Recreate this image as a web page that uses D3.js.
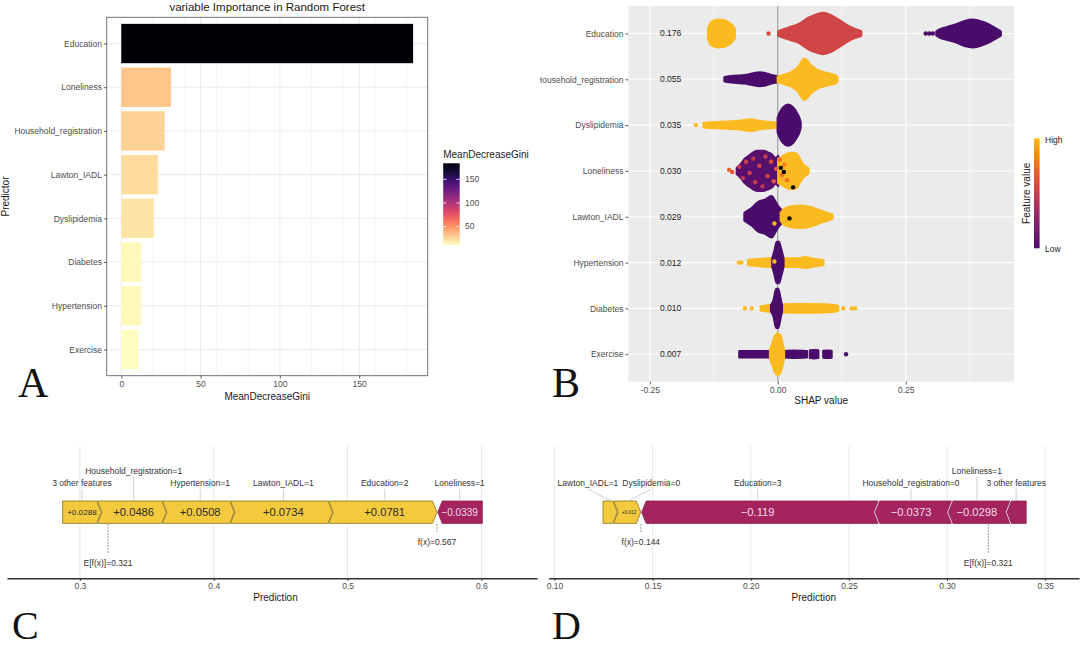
<!DOCTYPE html>
<html>
<head>
<meta charset="UTF-8">
<title>Random forest importance and SHAP</title>
<script src="https://cdnjs.cloudflare.com/ajax/libs/d3/7.8.5/d3.min.js"></script>
<style>
  body { margin: 0; background: #fff; }
  svg text { font-family: "Liberation Sans", Arial, sans-serif; }
  svg text.letter { font-family: "Liberation Serif", "Times New Roman", serif; }
</style>
</head>
<body>
<script>
// ---------- data: panel A (random forest importance)
const rfPredictors = ["Education", "Loneliness", "Household_registration", "Lawton_IADL",
  "Dyslipidemia", "Diabetes", "Hypertension", "Exercise"];
const rfGini = [184, 31.4, 27.3, 23.1, 20.5, 12.5, 12.4, 10.8];
const giniTicks = [0, 50, 100, 150];
const giniLegendTicks = [50, 100, 150];

// ---------- data: panel B (SHAP summary)
const shapFeatures = ["Education", "Household_registration", "Dyslipidemia", "Loneliness",
  "Lawton_IADL", "Hypertension", "Diabetes", "Exercise"];
const shapMeanAbs = [0.176, 0.055, 0.035, 0.030, 0.029, 0.012, 0.010, 0.007];
const shapTicks = [-0.25, 0, 0.25];

// swarm outlines: t = feature value (0 low .. 1 high),
// pts = [shap value, swarm density 0..1]
const swarmEducation = [
  { t: 1, pts: [[-0.136, 0.25], [-0.132, 0.5], [-0.126, 0.62], [-0.116, 0.67], [-0.106, 0.65], [-0.097, 0.56], [-0.09, 0.42], [-0.084, 0.22]] },
  { t: 0.55, pts: [[0.001, 0.1], [0.014, 0.23], [0.027, 0.33], [0.04, 0.44], [0.06, 0.76], [0.075, 0.92], [0.089, 1.0], [0.103, 0.9], [0.118, 0.68], [0.138, 0.36], [0.15, 0.22], [0.157, 0.16], [0.163, 0.1]] },
  { t: 0, pts: [[0.31, 0.1], [0.317, 0.2], [0.33, 0.3], [0.35, 0.45], [0.365, 0.6], [0.381, 0.67], [0.4, 0.56], [0.415, 0.4], [0.425, 0.25], [0.4355, 0.1]] }
];
const swarmHousehold = [
  { t: 0, pts: [[-0.104, 0.1], [-0.095, 0.14], [-0.08, 0.17], [-0.065, 0.2], [-0.05, 0.27], [-0.035, 0.33], [-0.022, 0.28], [-0.012, 0.2], [-0.002, 0.15]] },
  { t: 1, pts: [[0.0, 0.12], [0.007, 0.18], [0.027, 0.35], [0.04, 0.6], [0.052, 1.0], [0.066, 0.65], [0.08, 0.42], [0.092, 0.32], [0.105, 0.25], [0.112, 0.2], [0.1165, 0.1]] }
];
const swarmDyslipidemia = [
  { t: 1, pts: [[-0.145, 0.1], [-0.13, 0.13], [-0.11, 0.15], [-0.09, 0.18], [-0.07, 0.22], [-0.051, 0.28], [-0.035, 0.2], [-0.02, 0.15], [-0.005, 0.12], [0.0, 0.1]] },
  { t: 0, pts: [[0.0, 0.35], [0.004, 0.6], [0.01, 0.85], [0.02, 1.0], [0.03, 0.85], [0.037, 0.6], [0.042, 0.35], [0.0445, 0.12]] }
];
const swarmLoneliness = [
  { t: 0.05, pts: [[-0.08, 0.15], [-0.0737, 0.29], [-0.0639, 0.6], [-0.054, 0.78], [-0.041, 0.97], [-0.028, 0.97], [-0.018, 0.88], [-0.0117, 0.8], [-0.005, 0.63], [0.001, 0.72]] },
  { t: 1, pts: [[0.001, 0.6], [0.0045, 0.62], [0.014, 0.78], [0.027, 0.88], [0.037, 0.83], [0.0436, 0.55], [0.05, 0.3], [0.055, 0.2], [0.06, 0.12]] }
];
const swarmLawton = [
  { t: 0, pts: [[-0.065, 0.18], [-0.058, 0.3], [-0.051, 0.42], [-0.038, 0.72], [-0.025, 0.82], [-0.012, 1.0], [-0.005, 0.75], [0.001, 0.5], [0.008, 0.3]] },
  { t: 1, pts: [[0.006, 0.2], [0.014, 0.4], [0.027, 0.5], [0.047, 0.54], [0.066, 0.45], [0.079, 0.33], [0.092, 0.22], [0.1067, 0.1]] }
];
const swarmHypertension = [
  { t: 1, pts: [[-0.058, 0.12], [-0.04, 0.16], [-0.02, 0.2], [0.0, 0.22], [0.02, 0.2], [0.04, 0.2], [0.053, 0.26], [0.07, 0.18], [0.089, 0.12]] },
  { t: 0, pts: [[-0.0105, 0.2], [-0.006, 0.6], [-0.002, 1.0], [0.002, 1.0], [0.006, 0.7], [0.011, 0.2]] }
];
const swarmDiabetes = [
  { t: 1, pts: [[-0.033, 0.1], [-0.02, 0.14], [0.0, 0.18], [0.03, 0.2], [0.06, 0.2], [0.09, 0.19], [0.11, 0.16], [0.118, 0.12]] },
  { t: 0, pts: [[-0.013, 0.15], [-0.008, 0.4], [-0.003, 0.95], [0.001, 0.95], [0.005, 0.5], [0.008, 0.15]] }
];
const swarmExercise = [
  { t: 0, pts: [[-0.075, 0.15], [-0.05, 0.15], [-0.02, 0.15], [-0.005, 0.15]] },
  { t: 0, pts: [[0.01, 0.15], [0.03, 0.17], [0.057, 0.15]] },
  { t: 0, pts: [[0.063, 0.18], [0.071, 0.2], [0.079, 0.18]] },
  { t: 0, pts: [[0.089, 0.16], [0.097, 0.17], [0.105, 0.16]] },
  { t: 1, pts: [[-0.015, 0.2], [-0.01, 0.55], [-0.005, 0.9], [0.0, 1.0], [0.005, 0.9], [0.009, 0.55], [0.012, 0.2]] }
];
// single points: [shap value, offset in density units (+ up), t]
const dotsEducation = [[-0.018, 0, 0.58], [0.289, 0, 0], [0.296, 0, 0], [0.303, 0, 0]];
const dotsHousehold = [];
const dotsDyslipidemia = [[-0.16, 0, 1]];
const dotsLoneliness = [[-0.095, 0.05, 0.7], [-0.089, -0.05, 0.65], [-0.075, 0.2, 0.5], [-0.068, -0.35, 0.45],
  [-0.062, 0.45, 0.5], [-0.055, -0.1, 0.55], [-0.048, 0.6, 0.45], [-0.044, -0.55, 0.5], [-0.036, 0.25, 0.55],
  [-0.03, -0.75, 0.45], [-0.024, 0.7, 0.5], [-0.02, -0.25, 0.55], [-0.013, 0.45, 0.6], [-0.008, -0.5, 0.65],
  [-0.003, 0.1, 0.7], [0.004, 0.55, 0.72], [0.008, -0.2, 0.75], [0.013, 0.3, 0.8], [0.018, -0.45, 0.75],
  [0.006, 0.15, -0.3], [0.012, -0.05, -0.3], [0.03, -0.8, -0.3]];
const dotsLawton = [[0.0228, -0.08, -0.35], [-0.0066, -0.33, 1]];
const dotsHypertension = [[-0.076, 0, 1], [-0.071, 0, 1], [-0.0066, 0.05, 1]];
const dotsDiabetes = [[-0.064, 0, 1], [-0.051, 0, 1], [0.128, 0, 1], [0.1445, 0, 1], [0.151, 0, 1]];
const dotsExercise = [[0.1334, 0, 0]];

const swarmRows = [swarmEducation, swarmHousehold, swarmDyslipidemia, swarmLoneliness,
  swarmLawton, swarmHypertension, swarmDiabetes, swarmExercise];
const dotRows = [dotsEducation, dotsHousehold, dotsDyslipidemia, dotsLoneliness,
  dotsLawton, dotsHypertension, dotsDiabetes, dotsExercise];

// ---------- data: panels C and D (force plots)
const forceCLabels = ["3 other features", "Household_registration=1", "Hypertension=1",
  "Lawton_IADL=1", "Education=2", "Loneliness=1"];
const forceCValues = [0.0288, 0.0486, 0.0508, 0.0734, 0.0781, -0.0339];
const forceCBase = 0.321;
const forceCTicks = [0.3, 0.4, 0.5, 0.6];

const forceDLabels = ["Lawton_IADL=1", "Dyslipidemia=0", "Education=3",
  "Household_registration=0", "Loneliness=1", "3 other features"];
const forceDValues = [0.0073, 0.012, -0.119, -0.0373, -0.0298, -0.0102];
const forceDBase = 0.321;
const forceDTicks = [0.10, 0.15, 0.20, 0.25, 0.30, 0.35];

// ---------------------------------------------------------------
var svg = d3.select("body").append("svg")
  .attr("width", 1080).attr("height", 648)
  .style("display", "block");
svg.append("rect").attr("width", 1080).attr("height", 648).attr("fill", "#fff");

function styleAxis(ax, size) {
  ax.select(".domain").remove();
  ax.selectAll(".tick line").attr("stroke", "#333").attr("stroke-width", 0.8);
  ax.selectAll(".tick text").attr("fill", "#4d4d4d").style("font-size", size || "8.5px");
}

// ================= panel A
var aL = 106.7, aR = 427.7, aT = 17.3, aB = 375.7;
var giniMax = d3.max(rfGini), giniMin = d3.min(rfGini);
var xA = d3.scaleLinear().domain([-0.05 * giniMax, 1.05 * giniMax]).range([aL, aR]);
var yA = d3.scalePoint().domain(rfPredictors).range([aT, aB]).padding(0.6);
var giniColor = d3.scaleSequential(t => d3.interpolateMagma(1 - t)).domain([giniMin, giniMax]);
var gA = svg.append("g");

// grid
var minorA = xA.ticks(8).filter(v => giniTicks.indexOf(v) < 0);
gA.selectAll(".minor").data(minorA).join("line")
  .attr("x1", v => xA(v)).attr("x2", v => xA(v)).attr("y1", aT).attr("y2", aB)
  .attr("stroke", "#f0f0f0").attr("stroke-width", 0.6);
gA.selectAll(".major").data(giniTicks).join("line")
  .attr("x1", v => xA(v)).attr("x2", v => xA(v)).attr("y1", aT).attr("y2", aB)
  .attr("stroke", "#ebebeb").attr("stroke-width", 1);
gA.selectAll(".hgrid").data(rfPredictors).join("line")
  .attr("x1", aL).attr("x2", aR).attr("y1", d => yA(d)).attr("y2", d => yA(d))
  .attr("stroke", "#ebebeb").attr("stroke-width", 1);

// bars
var stepA = yA.step();
gA.selectAll(".bar").data(rfPredictors).join("rect")
  .attr("x", xA(0))
  .attr("y", d => yA(d) - stepA * 0.45)
  .attr("width", (d, i) => xA(rfGini[i]) - xA(0))
  .attr("height", stepA * 0.9)
  .attr("fill", (d, i) => giniColor(rfGini[i]));

gA.append("rect").attr("x", aL).attr("y", aT).attr("width", aR - aL).attr("height", aB - aT)
  .attr("fill", "none").attr("stroke", "#666").attr("stroke-width", 0.9);

var axA = gA.append("g").attr("transform", `translate(0,${aB})`)
  .call(d3.axisBottom(xA).tickValues(giniTicks).tickSize(2.8).tickPadding(2));
styleAxis(axA);
var ayA = gA.append("g").attr("transform", `translate(${aL},0)`)
  .call(d3.axisLeft(yA).tickSize(2.8).tickPadding(2));
styleAxis(ayA);

gA.append("text").attr("x", (aL + aR) / 2).attr("y", 10.5).attr("text-anchor", "middle")
  .style("font-size", "11.5px").attr("fill", "#1a1a1a").text("variable Importance in Random Forest");
gA.append("text").attr("x", (aL + aR) / 2).attr("y", 400).attr("text-anchor", "middle")
  .style("font-size", "10px").attr("fill", "#1a1a1a").text("MeanDecreaseGini");
gA.append("text").attr("transform", `translate(9,${(aT + aB) / 2}) rotate(-90)`)
  .attr("text-anchor", "middle").style("font-size", "10px").attr("fill", "#1a1a1a").text("Predictor");

// legend A
var defs = svg.append("defs");
var gradA = defs.append("linearGradient").attr("id", "gradA")
  .attr("x1", 0).attr("y1", 1).attr("x2", 0).attr("y2", 0);
d3.range(0, 1.001, 0.1).forEach(t => gradA.append("stop")
  .attr("offset", t).attr("stop-color", d3.interpolateMagma(1 - t)));
var legAy = d3.scaleLinear().domain([giniMin, giniMax]).range([245, 163.3]);
gA.append("text").attr("x", 443.2).attr("y", 158).style("font-size", "10px")
  .attr("fill", "#1a1a1a").text("MeanDecreaseGini");
gA.append("rect").attr("x", 443.2).attr("y", 163.3).attr("width", 16.5).attr("height", 81.7)
  .attr("fill", "url(#gradA)");
giniLegendTicks.forEach(v => {
  gA.append("line").attr("x1", 443.2).attr("x2", 446.5).attr("y1", legAy(v)).attr("y2", legAy(v))
    .attr("stroke", "#fff").attr("stroke-width", 0.8);
  gA.append("line").attr("x1", 456.4).attr("x2", 459.7).attr("y1", legAy(v)).attr("y2", legAy(v))
    .attr("stroke", "#fff").attr("stroke-width", 0.8);
  gA.append("text").attr("x", 465).attr("y", legAy(v)).attr("dy", "0.35em")
    .style("font-size", "8.5px").attr("fill", "#4d4d4d").text(v);
});

// ================= panel B
var bL = 628.3, bR = 1014, bT = 6, bB = 381.7;
defs.append("clipPath").attr("id", "clipB").append("rect")
  .attr("x", 540).attr("y", 0).attr("width", 540).attr("height", 648);
defs.append("clipPath").attr("id", "clipBpanel").append("rect")
  .attr("x", bL).attr("y", bT).attr("width", bR - bL).attr("height", bB - bT);
var gB = svg.append("g").attr("clip-path", "url(#clipB)");
var xB = d3.scaleLinear().domain([-0.292, 0.4615]).range([bL, bR]);
var yB = d3.scalePoint().domain(shapFeatures).range([bT, bB]).padding(0.6);
var H = yB.step() * 0.448;
var shapColor = t => d3.interpolateInferno(0.22 + 0.62 * t);

gB.append("rect").attr("x", bL).attr("y", bT).attr("width", bR - bL).attr("height", bB - bT)
  .attr("fill", "#ebebeb");
var minorB = [-0.125, 0.125, 0.375];
gB.selectAll(".bminor").data(minorB).join("line")
  .attr("x1", v => xB(v)).attr("x2", v => xB(v)).attr("y1", bT).attr("y2", bB)
  .attr("stroke", "#fff").attr("stroke-width", 0.5);
gB.selectAll(".bmajor").data(shapTicks).join("line")
  .attr("x1", v => xB(v)).attr("x2", v => xB(v)).attr("y1", bT).attr("y2", bB)
  .attr("stroke", "#fff").attr("stroke-width", 1.1);
gB.selectAll(".bh").data(shapFeatures).join("line")
  .attr("x1", bL).attr("x2", bR).attr("y1", d => yB(d)).attr("y2", d => yB(d))
  .attr("stroke", "#fff").attr("stroke-width", 1.1);
gB.append("line").attr("x1", xB(0)).attr("x2", xB(0)).attr("y1", bT).attr("y2", bB)
  .attr("stroke", "#9a9a9a").attr("stroke-width", 1.2);

var swarmG = gB.append("g").attr("clip-path", "url(#clipBpanel)");
swarmRows.forEach((clusters, r) => {
  var yc = yB(shapFeatures[r]);
  var area = d3.area()
    .x(p => xB(p[0]))
    .y0(p => yc + p[1] * H)
    .y1(p => yc - p[1] * H)
    .curve(d3.curveMonotoneX);
  clusters.forEach(c => {
    swarmG.append("path").attr("d", area(c.pts))
      .attr("fill", shapColor(c.t)).attr("stroke", shapColor(c.t))
      .attr("stroke-width", 2.4).attr("stroke-linejoin", "round");
  });
  dotRows[r].forEach(p => {
    swarmG.append("circle").attr("cx", xB(p[0])).attr("cy", yc - p[1] * H).attr("r", 2.2)
      .attr("fill", shapColor(p[2]));
  });
});

var ayB = gB.append("g").attr("transform", `translate(${bL},0)`)
  .call(d3.axisLeft(yB).tickSize(2.8).tickPadding(2));
styleAxis(ayB);
var axB = gB.append("g").attr("transform", `translate(0,${bB})`)
  .call(d3.axisBottom(xB).tickValues(shapTicks).tickFormat(v => v.toFixed(2)).tickSize(2.8).tickPadding(2));
styleAxis(axB);

gB.selectAll(".mabs").data(shapMeanAbs).join("text")
  .attr("x", 660).attr("y", (d, i) => yB(shapFeatures[i])).attr("dy", "0.35em")
  .style("font-size", "8.5px").attr("fill", "#1a1a1a").text(d => d.toFixed(3));

gB.append("text").attr("x", (bL + bR) / 2).attr("y", 404).attr("text-anchor", "middle")
  .style("font-size", "10px").attr("fill", "#1a1a1a").text("SHAP value");

// legend B
var gradB = defs.append("linearGradient").attr("id", "gradB")
  .attr("x1", 0).attr("y1", 1).attr("x2", 0).attr("y2", 0);
d3.range(0, 1.001, 0.1).forEach(t => gradB.append("stop")
  .attr("offset", t).attr("stop-color", shapColor(t)));
gB.append("rect").attr("x", 1034).attr("y", 138.3).attr("width", 5.6).attr("height", 110)
  .attr("fill", "url(#gradB)");
gB.append("text").attr("x", 1045).attr("y", 143).style("font-size", "8.5px")
  .attr("fill", "#1a1a1a").text("High");
gB.append("text").attr("x", 1045).attr("y", 251.5).style("font-size", "8.5px")
  .attr("fill", "#1a1a1a").text("Low");
gB.append("text").attr("transform", "translate(1029.5,193.3) rotate(-90)")
  .attr("text-anchor", "middle").style("font-size", "10px").attr("fill", "#1a1a1a")
  .text("Feature value");

// ================= panels C and D
var fmt3 = d3.format(".3~r");
var fmtSeg = d3.format("+.3~r");

function drawForce(opt) {
  var g = svg.append("g");
  var x = d3.scaleLinear().domain([opt.ticks[0], opt.ticks[opt.ticks.length - 1]]).range(opt.tickRange);
  x.domain([x.invert(opt.axisL), x.invert(opt.axisR)]).range([opt.axisL, opt.axisR]);
  var top = 501, bot = 523.4, mid = (top + bot) / 2, d = 4.5, gap = 0.8;
  var axisY = 578.3;

  g.selectAll(".grid").data(opt.ticks).join("line")
    .attr("x1", v => x(v)).attr("x2", v => x(v)).attr("y1", 446).attr("y2", axisY)
    .attr("stroke", "#e8e8e8").attr("stroke-width", 1);

  var ax = g.append("g").attr("transform", `translate(0,${axisY})`)
    .call(d3.axisBottom(x).tickValues(opt.ticks).tickFormat(opt.fmt).tickSize(2.5).tickSizeOuter(0).tickPadding(2));
  ax.select(".domain").attr("stroke", "#333").attr("stroke-width", 1.6);
  ax.selectAll(".tick line").attr("stroke", "#333");
  ax.selectAll(".tick text").attr("fill", "#4d4d4d").style("font-size", "8.5px");
  g.append("text").attr("x", opt.titleX).attr("y", 601).attr("text-anchor", "middle")
    .style("font-size", "10px").attr("fill", "#1a1a1a").text("Prediction");

  // segments
  var fx = opt.base + d3.sum(opt.values);
  var items = opt.values.map((v, i) => ({ v: v, label: opt.labels[i] }));
  var pos = items.filter(o => o.v > 0), neg = items.filter(o => o.v < 0);
  var segs = [];
  var cur = fx - d3.sum(pos, o => o.v);
  pos.forEach((o, k) => { segs.push({ label: o.label, v: o.v, a: cur, b: cur + o.v, sign: 1, end: k === 0 }); cur += o.v; });
  cur = fx;
  neg.forEach((o, k) => { segs.push({ label: o.label, v: o.v, a: cur, b: cur - o.v, sign: -1, end: k === neg.length - 1 }); cur -= o.v; });

  function shape(s) {
    var X0 = x(s.a), X1 = x(s.b);
    if (s.sign > 0) {
      return s.end
        ? [[X0, top], [X1 - d, top], [X1, mid], [X1 - d, bot], [X0, bot]]
        : [[X0 - d + gap, top], [X1 - d, top], [X1, mid], [X1 - d, bot], [X0 - d + gap, bot], [X0 + gap, mid]];
    }
    X0 += gap;
    return s.end
      ? [[X0 + d, top], [X1, top], [X1, bot], [X0 + d, bot], [X0, mid]]
      : [[X0 + d, top], [X1 + d - gap, top], [X1 - gap, mid], [X1 + d - gap, bot], [X0 + d, bot], [X0, mid]];
  }

  g.selectAll(".seg").data(segs).join("polygon")
    .attr("points", s => shape(s).map(p => p.join(",")).join(" "))
    .attr("fill", s => s.sign > 0 ? "#f3c93d" : "#a3245f")
    .attr("stroke", s => s.sign > 0 ? "#8c7424" : "#8e1f52")
    .attr("stroke-width", 0.8);

  // values inside the arrows, shrunk to fit
  g.selectAll(".segtxt").data(segs).join("text")
    .attr("x", s => (x(s.a) + x(s.b)) / 2).attr("y", mid).attr("dy", "0.36em")
    .attr("text-anchor", "middle").style("font-size", "11.2px")
    .attr("fill", s => s.sign > 0 ? "#2b2b2b" : "#f6d9e6")
    .text(s => fmtSeg(s.v))
    .each(function (s) {
      var avail = x(s.b) - x(s.a) - 9;
      var len = this.getComputedTextLength();
      var fs = 11.2 * Math.min(1, avail / len);
      if (fs < 4.5) d3.select(this).remove();
      else d3.select(this).style("font-size", fs + "px");
    });

  // feature labels above, lifted or pushed apart when they collide
  var labs = segs.map(s => ({ s: s, cx: x((s.a + s.b) / 2), row: 0 }));
  var lt = g.selectAll(".flab").data(labs).join("text")
    .attr("text-anchor", "middle").style("font-size", "8.5px").attr("fill", "#333")
    .text(o => o.s.label)
    .each(function (o) { o.w = this.getComputedTextLength(); o.x = o.cx; });
  labs.sort((p, q) => p.cx - q.cx);
  var hits = (p, q) => p.x + p.w / 2 + 3 > q.x - q.w / 2;
  labs.forEach((o, i) => {
    if (i > 0 && i < labs.length - 1 && hits(labs[i - 1], o) && hits(o, labs[i + 1])) o.row = 1;
  });
  var low = labs.filter(o => o.row === 0);
  for (var it = 0; it < 20; it++) {
    for (var i = 1; i < low.length; i++) {
      var o = low[i - 1].x + low[i - 1].w / 2 + 4 - (low[i].x - low[i].w / 2);
      if (o > 0) { low[i - 1].x -= o / 2; low[i].x += o / 2; }
    }
  }
  labs.forEach(o => { o.y = o.row ? 473.5 : 486; });
  lt.attr("x", o => o.x).attr("y", o => o.y);
  g.selectAll(".conn").data(labs).join("line")
    .attr("x1", o => o.x).attr("y1", o => o.y + 3)
    .attr("x2", o => o.cx).attr("y2", top - 0.5)
    .attr("stroke", "#bdbdbd").attr("stroke-width", 0.7);

  // f(x) and E[f(x)] markers
  g.append("line").attr("x1", x(fx)).attr("x2", x(fx)).attr("y1", bot + 1).attr("y2", 533)
    .attr("stroke", "#555").attr("stroke-width", 1).attr("stroke-dasharray", "1.2,1.8");
  g.append("text").attr("x", x(fx)).attr("y", 545).attr("text-anchor", "middle")
    .style("font-size", "8.5px").attr("fill", "#333").text("f(x)=" + fmt3(fx));
  g.append("line").attr("x1", x(opt.base)).attr("x2", x(opt.base)).attr("y1", bot + 1).attr("y2", 553)
    .attr("stroke", "#555").attr("stroke-width", 1).attr("stroke-dasharray", "1.2,1.8");
  g.append("text").attr("x", x(opt.base)).attr("y", 566).attr("text-anchor", "middle")
    .style("font-size", "8.5px").attr("fill", "#333").text("E[f(x)]=" + fmt3(opt.base));
}

drawForce({ labels: forceCLabels, values: forceCValues, base: forceCBase, ticks: forceCTicks,
  fmt: d3.format(".1f"), tickRange: [79.9, 481.4], axisL: 6.9, axisR: 537, titleX: 275.5 });
drawForce({ labels: forceDLabels, values: forceDValues, base: forceDBase, ticks: forceDTicks,
  fmt: d3.format(".2f"), tickRange: [554.5, 1045.2], axisL: 548.6, axisR: 1079, titleX: 813.8 });

// panel letters
[["A", 18, 397, 42], ["B", 552, 396.5, 42], ["C", 12, 639, 40], ["D", 552, 639, 40]].forEach(l => {
  svg.append("text").attr("class", "letter").attr("x", l[1]).attr("y", l[2])
    .style("font-size", l[3] + "px").attr("fill", "#111").text(l[0]);
});
</script>
</body>
</html>
